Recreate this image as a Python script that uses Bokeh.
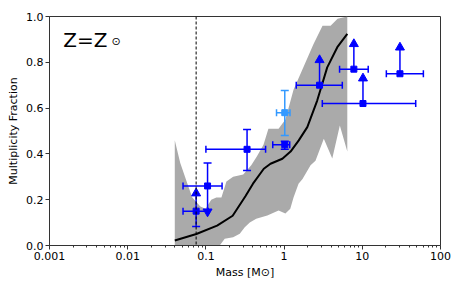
import math
from bokeh.plotting import figure
from bokeh.models import ColumnDataSource, FixedTicker, Span, PrintfTickFormatter, Range1d
from bokeh.core.properties import value
from bokeh.embed import file_html
from bokeh.resources import INLINE

# ---- model: median multiplicity curve ----
curve_mass = [0.04, 0.0755, 0.139, 0.22, 0.32, 0.40, 0.55, 0.67, 0.95, 1.21, 1.54, 1.98, 2.65, 3.56, 4.79, 6.43]
curve_frac = [0.022, 0.05, 0.087, 0.13, 0.215, 0.27, 0.335, 0.357, 0.379, 0.41, 0.459, 0.517, 0.633, 0.778, 0.866, 0.924]

# ---- model: spread band ----
band_upper_mass = [0.04, 0.047, 0.058, 0.067, 0.085, 0.099, 0.117, 0.136, 0.158, 0.183, 0.223, 0.30, 0.38,
                   0.45, 0.545, 0.63, 0.85, 1.04, 1.32, 1.77, 2.38, 3.10, 3.93, 4.83, 6.43]
band_upper_frac = [0.46, 0.36, 0.27, 0.21, 0.17, 0.16, 0.20, 0.21, 0.21, 0.28, 0.30, 0.31, 0.35,
                   0.39, 0.44, 0.51, 0.51, 0.55, 0.68, 0.78, 0.88, 0.96, 0.96, 0.99, 1.0]
band_lower_mass = [0.04, 0.15, 0.174, 0.223, 0.271, 0.314, 0.364, 0.44, 0.61, 0.85, 1.04, 1.2, 1.32, 1.53,
                   1.72, 2.18, 2.52, 3.22, 4.13, 5.16, 6.43]
band_lower_frac = [0.0, 0.0, 0.03, 0.036, 0.051, 0.08, 0.10, 0.117, 0.131, 0.153, 0.14, 0.16, 0.21, 0.27,
                   0.29, 0.35, 0.37, 0.466, 0.38, 0.524, 0.41]

hydrogen_limit = 0.075

# ---- observations ----
obs_mass = [0.075, 0.105, 0.336, 1.02, 1.02, 2.84, 7.8, 10.2, 30.3]
obs_frac = [0.15, 0.26, 0.42, 0.44, 0.58, 0.70, 0.77, 0.62, 0.75]
obs_mass_lo = [0.051, 0.051, 0.10, 0.716, 0.80, 1.43, 5.12, 3.08, 20.3]
obs_mass_hi = [0.107, 0.161, 0.58, 1.18, 1.19, 5.55, 11.9, 48.2, 60.4]
obs_frac_lo = [0.083, 0.148, 0.327, 0.42, 0.48, 0.70, 0.77, 0.62, 0.75]
obs_frac_hi = [0.228, 0.36, 0.507, 0.455, 0.677, 0.81, 0.88, 0.73, 0.865]
obs_lo_end = ["cap", "down", "cap", "cap", "cap", "none", "none", "none", "none"]
obs_hi_end = ["up", "cap", "cap", "cap", "cap", "up", "up", "up", "up"]
obs_color = ["#0000ff", "#0000ff", "#0000ff", "#0000ff", "#3399ff", "#0000ff", "#0000ff", "#0000ff", "#0000ff"]

x_major = [0.001, 0.01, 0.1, 1, 10, 100]
x_labels = ["0.001", "0.01", "0.1", "1", "10", "100"]
y_major = [0.0, 0.2, 0.4, 0.6, 0.8, 1.0]

FONT = "DejaVu Sans"

p = figure(x_axis_type="log", x_range=Range1d(0.001, 100), y_range=Range1d(0, 1),
           frame_width=391, frame_height=229, min_border_left=49, min_border_right=23,
           min_border_top=16, min_border_bottom=45,
           output_backend="svg", toolbar_location=None)
p.grid.visible = False
p.outline_line_color = "#333333"
p.outline_line_width = 1
p.background_fill_color = "white"
p.border_fill_color = "white"

# band
poly_x = band_upper_mass + band_lower_mass[::-1]
poly_y = band_upper_frac + band_lower_frac[::-1]
p.patch(poly_x, poly_y, fill_color="#aaaaaa", line_color=None)

# curve
p.line(curve_mass, curve_frac, line_color="black", line_width=2)

# hydrogen burning limit
p.add_layout(Span(location=hydrogen_limit, dimension="height", line_color="black",
                  line_width=1, line_dash="3 2"))

# error bars
src = ColumnDataSource(dict(m=obs_mass, f=obs_frac, mlo=obs_mass_lo, mhi=obs_mass_hi,
                            flo=obs_frac_lo, fhi=obs_frac_hi, c=obs_color))
p.segment(x0="mlo", y0="f", x1="mhi", y1="f", source=src, line_color="c", line_width=1.5)
p.segment(x0="m", y0="flo", x1="m", y1="fhi", source=src, line_color="c", line_width=1.5)

# horizontal caps
p.scatter(x=obs_mass_lo + obs_mass_hi, y=obs_frac + obs_frac, marker="dash", angle=math.pi / 2,
          size=7, line_color=obs_color + obs_color, line_width=1.5)

# vertical caps
cap_x, cap_y, cap_c = [], [], []
for i in range(len(obs_mass)):
    if obs_lo_end[i] == "cap":
        cap_x.append(obs_mass[i]); cap_y.append(obs_frac_lo[i]); cap_c.append(obs_color[i])
    if obs_hi_end[i] == "cap":
        cap_x.append(obs_mass[i]); cap_y.append(obs_frac_hi[i]); cap_c.append(obs_color[i])
p.scatter(x=cap_x, y=cap_y, marker="dash", size=8, line_color=cap_c, line_width=1.5)

# limit arrows
up_x = [obs_mass[i] for i in range(len(obs_mass)) if obs_hi_end[i] == "up"]
up_y = [obs_frac_hi[i] for i in range(len(obs_mass)) if obs_hi_end[i] == "up"]
up_c = [obs_color[i] for i in range(len(obs_mass)) if obs_hi_end[i] == "up"]
p.scatter(x=up_x, y=up_y, marker="triangle", size=9, fill_color=up_c, line_color=up_c)
dn_x = [obs_mass[i] for i in range(len(obs_mass)) if obs_lo_end[i] == "down"]
dn_y = [obs_frac_lo[i] for i in range(len(obs_mass)) if obs_lo_end[i] == "down"]
dn_c = [obs_color[i] for i in range(len(obs_mass)) if obs_lo_end[i] == "down"]
p.scatter(x=dn_x, y=dn_y, marker="inverted_triangle", size=9, fill_color=dn_c, line_color=dn_c)

# points
p.scatter(x="m", y="f", source=src, marker="square", size=6, fill_color="c", line_color="c")

# metallicity label
p.text(x=[0.0015], y=[0.898], text=["Z=Z"], text_font=value(FONT), text_font_size="20px",
       text_baseline="alphabetic", text_align="left", text_color="black")
p.text(x=[0.0062], y=[0.891], text=["\u2299"], text_font=value(FONT), text_font_size="11px",
       text_baseline="alphabetic", text_align="left", text_color="black")

# axes
minor = [k * 10.0 ** e for e in range(-3, 2) for k in range(2, 10)]
xa = p.xaxis[0]
xa.ticker = FixedTicker(ticks=x_major, minor_ticks=minor)
xa.major_label_overrides = {t: l for t, l in zip(x_major, x_labels)}
xa.axis_label = "Mass [M\u2299]"
ya = p.yaxis[0]
ya.ticker = FixedTicker(ticks=y_major)
ya.formatter = PrintfTickFormatter(format="%.1f")
ya.axis_label = "Multiplicity Fraction"

for ax in (xa, ya):
    ax.axis_line_color = "#333333"
    ax.major_tick_in = 0
    ax.major_tick_out = 4
    ax.minor_tick_in = 0
    ax.minor_tick_out = 2
    ax.major_tick_line_color = "#333333"
    ax.minor_tick_line_color = "#333333"
    ax.major_label_text_font = FONT
    ax.major_label_text_font_size = "11px"
    ax.major_label_text_color = "black"
    ax.axis_label_text_font = FONT
    ax.axis_label_text_font_size = "11px"
    ax.axis_label_text_font_style = "normal"
    ax.axis_label_text_color = "black"
    ax.major_label_standoff = 2
    ax.axis_label_standoff = 3
ya.minor_tick_line_color = None

open("out.html", "w").write(file_html(p, INLINE))
